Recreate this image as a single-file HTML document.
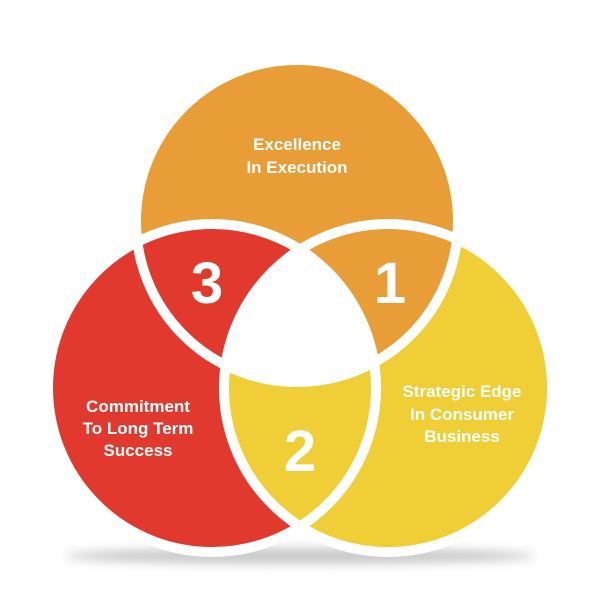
<!DOCTYPE html>
<html><head><style>html,body{margin:0;padding:0;background:#fff;}</style></head>
<body>
<svg width="600" height="600" viewBox="0 0 600 600" xmlns="http://www.w3.org/2000/svg">
<defs>
<filter id="b" x="-20%" y="-200%" width="140%" height="500%"><feGaussianBlur stdDeviation="5"/></filter>
<clipPath id="cr"><circle cx="212" cy="388" r="164"/></clipPath>
<clipPath id="cy"><circle cx="388" cy="388" r="164"/></clipPath>
</defs>
<ellipse cx="300" cy="556" rx="235" ry="8" fill="#c8c8c8" filter="url(#b)"/>
<circle cx="388" cy="388" r="164" fill="#F0CE36"/>
<circle cx="297" cy="221" r="161" fill="#E99D36"/>
<circle cx="212" cy="388" r="164" fill="#E2392E"/>
<g clip-path="url(#cr)"><circle cx="388" cy="388" r="164" fill="#F0CE36"/></g>
<g clip-path="url(#cr)"><g clip-path="url(#cy)"><circle cx="297" cy="221" r="161" fill="#fff"/></g></g>
<g fill="none" stroke="#fff" stroke-width="10">
<circle cx="388" cy="388" r="164"/>
<circle cx="297" cy="221" r="161"/>
<circle cx="212" cy="388" r="164"/>
</g>
<g fill="#fff" font-family="Liberation Sans, sans-serif" font-weight="bold" text-anchor="middle">
<text x="207" y="303" font-size="58">3</text>
<text x="390" y="303" font-size="58">1</text>
<text x="300" y="471" font-size="58">2</text>
<g font-size="17">
<text x="297" y="150">Excellence</text>
<text x="297" y="173">In Execution</text>
<text x="138" y="412">Commitment</text>
<text x="138" y="434">To Long Term</text>
<text x="138" y="456">Success</text>
<text x="462" y="397">Strategic Edge</text>
<text x="462" y="420">In Consumer</text>
<text x="462" y="442">Business</text>
</g>
</g>
</svg>
</body></html>
